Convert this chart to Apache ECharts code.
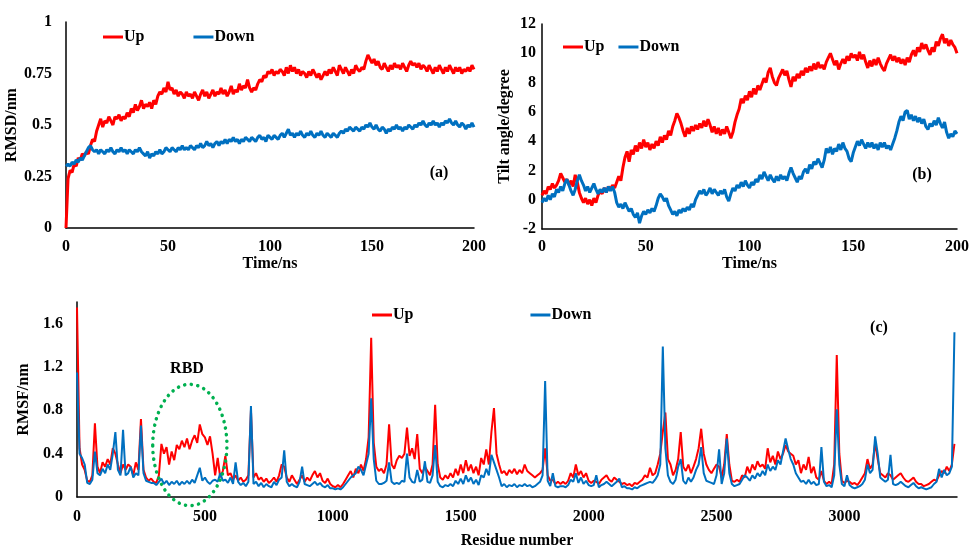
<!DOCTYPE html>
<html>
<head>
<meta charset="utf-8">
<script src="https://cdn.jsdelivr.net/npm/echarts@6/dist/echarts.min.js"></script>
<style>
  html, body { margin: 0; padding: 0; background: #fff; }
  #main { width: 972px; height: 550px; }
</style>
</head>
<body>
<div id="main"></div>
<script>
// (a) RMSD, one value per ns, 0..200
const rmsdUp = [
  0.00,0.24,0.28,0.27,0.31,0.30,0.34,0.33,0.36,0.35,
  0.37,0.36,0.40,0.43,0.42,0.47,0.50,0.53,0.49,0.52,
  0.51,0.54,0.52,0.50,0.54,0.53,0.55,0.52,0.54,0.53,
  0.56,0.54,0.58,0.56,0.60,0.57,0.59,0.62,0.58,0.60,
  0.59,0.61,0.58,0.62,0.60,0.64,0.66,0.65,0.68,0.66,
  0.71,0.67,0.68,0.65,0.67,0.64,0.66,0.65,0.63,0.66,
  0.64,0.65,0.63,0.66,0.64,0.62,0.65,0.67,0.64,0.66,
  0.63,0.65,0.67,0.64,0.66,0.65,0.68,0.65,0.67,0.64,
  0.66,0.69,0.65,0.67,0.66,0.70,0.67,0.69,0.68,0.72,
  0.68,0.66,0.68,0.67,0.70,0.72,0.71,0.74,0.73,0.76,
  0.75,0.77,0.74,0.76,0.75,0.77,0.76,0.74,0.78,0.75,
  0.79,0.76,0.78,0.75,0.77,0.74,0.76,0.75,0.73,0.76,
  0.74,0.77,0.75,0.73,0.75,0.72,0.74,0.76,0.74,0.77,
  0.75,0.78,0.76,0.74,0.79,0.77,0.75,0.78,0.76,0.74,
  0.77,0.75,0.79,0.77,0.76,0.78,0.77,0.81,0.84,0.82,
  0.80,0.82,0.79,0.81,0.78,0.77,0.80,0.78,0.76,0.79,
  0.77,0.80,0.78,0.79,0.77,0.80,0.78,0.76,0.79,0.81,
  0.79,0.80,0.78,0.80,0.77,0.79,0.78,0.76,0.79,0.77,
  0.75,0.78,0.76,0.79,0.77,0.75,0.78,0.76,0.79,0.77,
  0.75,0.78,0.76,0.78,0.75,0.77,0.76,0.78,0.76,0.79,
  0.77
]
const rmsdDown = [
  0.30,0.31,0.30,0.32,0.31,0.33,0.32,0.34,0.33,0.35,
  0.37,0.39,0.40,0.38,0.37,0.38,0.36,0.38,0.37,0.36,
  0.38,0.37,0.39,0.37,0.36,0.38,0.37,0.39,0.37,0.38,
  0.36,0.38,0.37,0.36,0.38,0.37,0.39,0.37,0.36,0.35,
  0.37,0.34,0.36,0.35,0.37,0.36,0.38,0.36,0.37,0.39,
  0.38,0.37,0.39,0.38,0.37,0.39,0.38,0.40,0.38,0.39,
  0.38,0.40,0.39,0.38,0.40,0.39,0.41,0.39,0.40,0.42,
  0.40,0.41,0.39,0.41,0.42,0.40,0.42,0.41,0.43,0.41,
  0.43,0.42,0.44,0.42,0.43,0.41,0.43,0.42,0.44,0.43,
  0.42,0.44,0.43,0.42,0.44,0.45,0.43,0.44,0.42,0.45,
  0.44,0.43,0.45,0.44,0.43,0.45,0.46,0.44,0.46,0.48,
  0.45,0.46,0.44,0.46,0.45,0.47,0.45,0.44,0.46,0.45,
  0.47,0.45,0.44,0.46,0.45,0.47,0.45,0.44,0.46,0.45,
  0.44,0.46,0.45,0.44,0.46,0.47,0.46,0.48,0.47,0.49,
  0.48,0.47,0.49,0.48,0.47,0.49,0.48,0.50,0.49,0.51,
  0.49,0.48,0.50,0.48,0.47,0.49,0.48,0.46,0.48,0.47,
  0.49,0.48,0.50,0.48,0.49,0.47,0.49,0.48,0.50,0.49,
  0.48,0.50,0.49,0.51,0.50,0.52,0.50,0.49,0.51,0.50,
  0.52,0.50,0.51,0.49,0.51,0.50,0.52,0.51,0.53,0.51,
  0.50,0.52,0.50,0.49,0.51,0.50,0.48,0.50,0.49,0.51,
  0.49
]

// (b) tilt angle, one value per ns, 0..200
const tiltUp = [
  0.3,0.6,0.4,0.9,0.7,1.1,0.8,1.0,1.3,1.8,
  1.5,1.2,1.4,1.0,1.3,0.9,1.7,1.2,0.5,0.1,
  -0.2,0.1,-0.3,0.0,-0.4,0.1,-0.2,0.3,0.6,0.4,
  0.8,0.5,0.9,0.7,1.0,0.8,1.2,1.6,1.3,2.2,
  2.9,3.3,2.6,3.4,3.1,3.7,3.3,3.9,3.5,4.1,
  3.6,3.9,3.4,3.8,3.5,4.0,3.7,4.3,3.9,4.4,
  4.1,4.7,4.4,5.0,5.4,5.9,5.6,5.2,4.7,4.3,
  4.9,4.5,5.0,4.7,5.1,4.8,5.2,4.9,5.4,5.0,
  5.5,5.1,4.6,5.0,4.5,4.9,4.4,4.8,4.5,5.0,
  4.6,4.2,4.6,5.3,5.8,6.2,6.9,6.6,7.1,6.8,
  7.4,7.0,7.6,7.2,7.8,7.5,7.9,8.3,8.0,8.7,
  9.0,8.4,8.0,7.8,8.3,8.6,8.9,8.5,8.8,8.2,
  7.7,8.4,8.1,8.6,8.3,8.8,8.5,9.0,8.7,9.1,
  8.8,9.3,8.9,9.4,9.0,9.2,8.9,9.4,9.7,10.0,
  9.6,9.2,9.5,8.9,9.3,9.6,9.3,9.8,9.5,10.0,
  9.7,9.9,9.5,10.1,9.6,9.9,9.4,9.0,9.5,9.1,
  9.6,9.2,9.7,9.3,9.0,8.8,9.3,9.6,9.9,9.5,
  9.8,9.4,9.7,9.3,9.6,9.2,9.7,9.4,9.9,10.2,
  9.8,10.4,10.1,10.7,10.3,10.6,10.2,9.9,10.4,10.1,
  10.8,10.5,11.0,11.3,10.7,11.0,10.5,10.9,10.6,10.4,
  10.0
]
const tiltDown = [
  -0.2,0.1,-0.1,0.3,0.0,0.4,0.2,0.7,0.5,0.9,
  0.6,1.1,1.4,1.0,0.6,0.3,0.7,1.3,1.7,1.3,
  1.0,0.6,0.9,0.5,0.8,1.1,0.7,0.4,0.7,0.5,
  0.8,0.5,0.9,0.6,0.9,0.5,-0.2,-0.5,-0.3,-0.6,
  -0.2,-0.5,-0.8,-0.6,-1.0,-1.2,-0.9,-1.6,-1.1,-0.8,
  -1.0,-0.7,-0.9,-0.6,-0.8,-0.4,0.1,0.4,0.2,-0.1,
  0.1,-0.4,-0.7,-1.0,-0.8,-1.1,-0.7,-0.9,-0.6,-0.8,
  -0.5,-0.7,-0.3,-0.5,0.0,0.3,0.6,0.4,0.7,0.3,
  0.5,0.8,0.4,0.7,0.5,0.3,0.6,0.4,0.7,0.2,
  -0.1,0.4,0.8,0.6,1.0,0.8,1.2,0.9,1.3,1.0,
  0.8,1.2,1.0,1.4,1.2,1.7,1.4,1.9,1.6,1.3,
  1.7,1.4,1.2,1.6,1.3,1.7,1.4,1.6,1.3,1.8,
  2.2,1.8,1.5,1.2,1.6,1.4,1.9,2.1,1.8,2.4,
  2.1,2.6,2.4,2.8,2.5,2.2,2.7,3.5,3.2,3.6,
  3.1,3.5,3.3,3.8,3.4,3.9,3.5,3.3,2.8,2.6,
  3.2,3.6,4.0,3.7,4.1,3.8,3.5,3.9,3.6,3.9,
  3.5,3.8,3.4,3.9,3.6,3.9,3.5,3.7,3.4,3.8,
  4.2,4.7,5.3,5.7,5.4,6.0,6.1,5.5,5.8,5.4,
  5.7,5.3,5.6,5.2,5.5,5.0,4.8,5.2,5.0,5.4,
  5.1,5.6,5.2,4.9,5.3,4.6,4.2,4.5,4.3,4.7,
  4.5
]

// (c) RMSF, one value every 10 residues, 0..3430
const rmsfUp = [
  1.75,0.45,0.30,0.25,0.15,0.14,0.20,0.68,0.28,0.22,
  0.32,0.28,0.35,0.30,0.45,0.40,0.30,0.22,0.30,0.25,
  0.30,0.28,0.20,0.32,0.25,0.72,0.25,0.18,0.15,0.17,
  0.14,0.13,0.20,0.49,0.40,0.46,0.30,0.42,0.34,0.48,
  0.44,0.52,0.46,0.54,0.44,0.52,0.57,0.50,0.67,0.58,
  0.55,0.48,0.56,0.40,0.20,0.36,0.18,0.24,0.38,0.20,
  0.22,0.16,0.20,0.15,0.18,0.14,0.16,0.20,0.80,0.18,
  0.22,0.16,0.18,0.14,0.17,0.13,0.15,0.18,0.14,0.20,
  0.30,0.28,0.18,0.14,0.20,0.16,0.12,0.16,0.20,0.14,
  0.18,0.15,0.20,0.24,0.18,0.22,0.15,0.13,0.17,0.12,
  0.10,0.09,0.11,0.09,0.12,0.16,0.20,0.24,0.18,0.26,
  0.22,0.30,0.24,0.35,0.55,1.47,0.50,0.28,0.24,0.26,
  0.22,0.30,0.67,0.30,0.26,0.34,0.38,0.36,0.40,0.64,
  0.38,0.45,0.35,0.58,0.26,0.22,0.28,0.24,0.20,0.30,
  0.85,0.30,0.18,0.16,0.20,0.17,0.22,0.18,0.26,0.20,
  0.30,0.22,0.34,0.24,0.30,0.22,0.28,0.20,0.36,0.30,
  0.44,0.30,0.60,0.82,0.40,0.30,0.22,0.24,0.20,0.25,
  0.22,0.26,0.21,0.25,0.22,0.30,0.24,0.22,0.20,0.18,
  0.20,0.22,0.25,0.45,0.20,0.15,0.16,0.12,0.14,0.12,
  0.14,0.12,0.15,0.22,0.18,0.30,0.20,0.24,0.18,0.22,
  0.15,0.13,0.15,0.14,0.12,0.16,0.18,0.20,0.16,0.14,
  0.18,0.16,0.14,0.12,0.13,0.11,0.12,0.10,0.13,0.12,
  0.14,0.16,0.20,0.18,0.27,0.20,0.22,0.30,0.40,0.60,
  0.78,0.35,0.30,0.20,0.25,0.35,0.60,0.28,0.24,0.30,
  0.22,0.28,0.35,0.45,0.63,0.40,0.30,0.25,0.22,0.26,
  0.30,0.28,0.18,0.30,0.58,0.30,0.15,0.14,0.16,0.14,
  0.20,0.18,0.28,0.22,0.30,0.25,0.33,0.28,0.30,0.26,
  0.45,0.32,0.38,0.30,0.42,0.35,0.40,0.48,0.42,0.40,
  0.38,0.30,0.34,0.22,0.30,0.25,0.37,0.22,0.28,0.18,
  0.16,0.24,0.15,0.12,0.14,0.12,0.30,1.31,0.40,0.15,
  0.13,0.15,0.14,0.12,0.13,0.11,0.14,0.18,0.22,0.35,
  0.26,0.30,0.50,0.35,0.22,0.20,0.18,0.22,0.20,0.16,
  0.18,0.20,0.22,0.18,0.15,0.14,0.16,0.18,0.14,0.12,
  0.12,0.10,0.11,0.12,0.14,0.16,0.15,0.20,0.24,0.22,
  0.28,0.24,0.30,0.49
]
const rmsfDown = [
  1.15,0.40,0.36,0.30,0.13,0.12,0.16,0.42,0.22,0.20,
  0.26,0.22,0.30,0.25,0.40,0.60,0.25,0.20,0.62,0.20,
  0.22,0.28,0.18,0.22,0.20,0.66,0.22,0.15,0.14,0.13,
  0.13,0.11,0.14,0.17,0.12,0.15,0.11,0.14,0.12,0.15,
  0.11,0.14,0.12,0.15,0.12,0.16,0.13,0.20,0.27,0.15,
  0.18,0.14,0.12,0.15,0.16,0.14,0.22,0.15,0.16,0.13,
  0.18,0.12,0.32,0.14,0.11,0.13,0.10,0.14,0.84,0.12,
  0.14,0.10,0.13,0.09,0.12,0.10,0.09,0.14,0.11,0.16,
  0.18,0.43,0.14,0.10,0.12,0.10,0.09,0.14,0.28,0.12,
  0.11,0.10,0.12,0.14,0.11,0.13,0.10,0.09,0.11,0.08,
  0.08,0.07,0.08,0.07,0.09,0.12,0.15,0.18,0.20,0.22,
  0.28,0.25,0.20,0.30,0.40,0.91,0.35,0.15,0.12,0.12,
  0.13,0.15,0.32,0.14,0.12,0.13,0.12,0.15,0.14,0.40,
  0.18,0.14,0.13,0.25,0.14,0.16,0.33,0.14,0.13,0.20,
  0.48,0.14,0.10,0.09,0.11,0.10,0.12,0.10,0.15,0.12,
  0.17,0.12,0.20,0.14,0.18,0.12,0.16,0.11,0.20,0.18,
  0.26,0.20,0.39,0.32,0.25,0.18,0.10,0.12,0.09,0.11,
  0.10,0.12,0.09,0.11,0.10,0.12,0.10,0.11,0.09,0.10,
  0.12,0.14,0.20,1.07,0.15,0.10,0.22,0.10,0.09,0.10,
  0.10,0.09,0.11,0.16,0.14,0.22,0.13,0.18,0.12,0.15,
  0.11,0.10,0.11,0.20,0.09,0.11,0.12,0.14,0.12,0.10,
  0.12,0.14,0.17,0.09,0.10,0.08,0.08,0.07,0.09,0.08,
  0.10,0.11,0.12,0.13,0.14,0.13,0.16,0.20,0.30,1.39,
  0.45,0.20,0.14,0.12,0.16,0.28,0.35,0.15,0.12,0.18,
  0.14,0.18,0.25,0.30,0.46,0.22,0.15,0.14,0.13,0.12,
  0.20,0.44,0.12,0.22,0.54,0.22,0.12,0.10,0.11,0.12,
  0.16,0.20,0.18,0.15,0.20,0.17,0.22,0.19,0.24,0.20,
  0.30,0.24,0.28,0.25,0.34,0.30,0.42,0.54,0.44,0.35,
  0.30,0.22,0.18,0.14,0.15,0.12,0.16,0.12,0.14,0.11,
  0.12,0.46,0.14,0.10,0.11,0.09,0.20,0.81,0.30,0.12,
  0.10,0.20,0.11,0.09,0.08,0.09,0.10,0.12,0.16,0.30,
  0.22,0.25,0.56,0.40,0.18,0.16,0.14,0.16,0.39,0.12,
  0.11,0.12,0.14,0.12,0.10,0.09,0.11,0.13,0.10,0.08,
  0.09,0.08,0.07,0.08,0.09,0.12,0.14,0.26,0.18,0.25,
  0.20,0.22,0.28,1.52
]

const timeStep = 1      // ns
const residueStep = 10  // residues

const RED = '#ff0000'
const BLUE = '#0070c0'
const FONT = 'Liberation Serif'

// [x, y] pairs for a value axis
const pairs = (vals, step) => vals.map((v, i) => [i * step, v])

const txt = { fontFamily: FONT, fontWeight: 'bold', fontSize: 16, color: '#000' }
const plain = v => String(v)

const axisCommon = {
  axisLine: { show: true, onZero: false, lineStyle: { color: '#000', width: 1.5 } },
  axisTick: { show: false },
  splitLine: { show: false },
  nameTextStyle: txt
}

const lineSeries = (name, data, color, idx, width) => ({
  name,
  type: 'line',
  xAxisIndex: idx,
  yAxisIndex: idx,
  data,
  symbol: 'none',
  lineStyle: { color, width },
  itemStyle: { color },
  animation: false
})

const legendAt = (left, top, gap) => ({
  left, top,
  data: ['Up', 'Down'],
  icon: 'rect',
  itemWidth: 20,
  itemHeight: 3,
  itemGap: gap,
  selectedMode: false,
  textStyle: Object.assign({}, txt, { padding: [0, 0, 0, -4] })
})

const chart = echarts.init(document.getElementById('main'))

const option = {
  backgroundColor: '#fff',
  animation: false,
  grid: [
    { left: 66, top: 22, width: 408, height: 206 },
    { left: 542, top: 24, width: 418, height: 205 },
    { left: 77, top: 302, width: 880, height: 200 }
  ],
  xAxis: [
    Object.assign({}, axisCommon, {
      gridIndex: 0, type: 'value', min: 0, max: 200, interval: 50,
      name: 'Time/ns', nameLocation: 'middle', nameGap: 26,
      axisLabel: Object.assign({}, txt, { margin: 11, formatter: plain })
    }),
    Object.assign({}, axisCommon, {
      gridIndex: 1, type: 'value', min: 0, max: 200, interval: 50,
      name: 'Time/ns', nameLocation: 'middle', nameGap: 25,
      axisLabel: Object.assign({}, txt, { margin: 10, formatter: plain })
    }),
    Object.assign({}, axisCommon, {
      gridIndex: 2, type: 'value', min: 0, max: 3440, interval: 500,
      name: 'Residue number', nameLocation: 'middle', nameGap: 36,
      axisLabel: Object.assign({}, txt, { margin: 12, showMaxLabel: false, formatter: plain })
    })
  ],
  yAxis: [
    Object.assign({}, axisCommon, {
      gridIndex: 0, type: 'value', min: 0, max: 1, interval: 0.25,
      name: 'RMSD/nm', nameLocation: 'middle', nameGap: 40,
      axisLabel: Object.assign({}, txt, { margin: 14, formatter: plain })
    }),
    Object.assign({}, axisCommon, {
      gridIndex: 1, type: 'value', min: -2, max: 12, interval: 2,
      name: 'Tilt angle/degree', nameLocation: 'middle', nameGap: 29,
      axisLabel: Object.assign({}, txt, { margin: 6, formatter: plain })
    }),
    Object.assign({}, axisCommon, {
      gridIndex: 2, type: 'value', min: 0, max: 1.8, interval: 0.4,
      name: 'RMSF/nm', nameLocation: 'middle', nameGap: 44,
      axisLabel: Object.assign({}, txt, { margin: 14, showMaxLabel: false,
        formatter: v => String(Math.round(v * 10) / 10) })
    })
  ],
  legend: [
    legendAt(98, 24, 49),
    legendAt(558, 34, 14),
    legendAt(367, 302, 117)
  ],
  series: [
    lineSeries('Up', pairs(rmsdUp, timeStep), RED, 0, 3),
    lineSeries('Down', pairs(rmsdDown, timeStep), BLUE, 0, 3),
    lineSeries('Up', pairs(tiltUp, timeStep), RED, 1, 3),
    lineSeries('Down', pairs(tiltDown, timeStep), BLUE, 1, 3),
    lineSeries('Up', pairs(rmsfUp, residueStep), RED, 2, 2),
    lineSeries('Down', pairs(rmsfDown, residueStep), BLUE, 2, 2)
  ]
}
chart.setOption(option)

// panel letters, RBD label and the dotted ellipse around the RBD region
const c = chart.convertToPixel({ xAxisIndex: 2, yAxisIndex: 2 }, [441, 0.48])
const edge = chart.convertToPixel({ xAxisIndex: 2, yAxisIndex: 2 }, [586, 1.04])
const label = (text, x, y) => ({
  type: 'text', x, y, silent: true,
  style: Object.assign({ text, align: 'center', verticalAlign: 'middle',
    font: 'bold 16px "' + FONT + '"', fill: '#000' })
})
chart.setOption({
  graphic: [
    label('(a)', 439, 173),
    label('(b)', 922, 175),
    label('(c)', 879, 328),
    label('RBD', 187, 369),
    {
      type: 'ellipse', silent: true,
      shape: { cx: c[0], cy: c[1], rx: edge[0] - c[0], ry: c[1] - edge[1] },
      style: { fill: 'none', stroke: '#00b050', lineWidth: 3.5, lineDash: [0.1, 6.5], lineCap: 'round' },
      z: 10
    }
  ]
})
</script>
</body>
</html>
